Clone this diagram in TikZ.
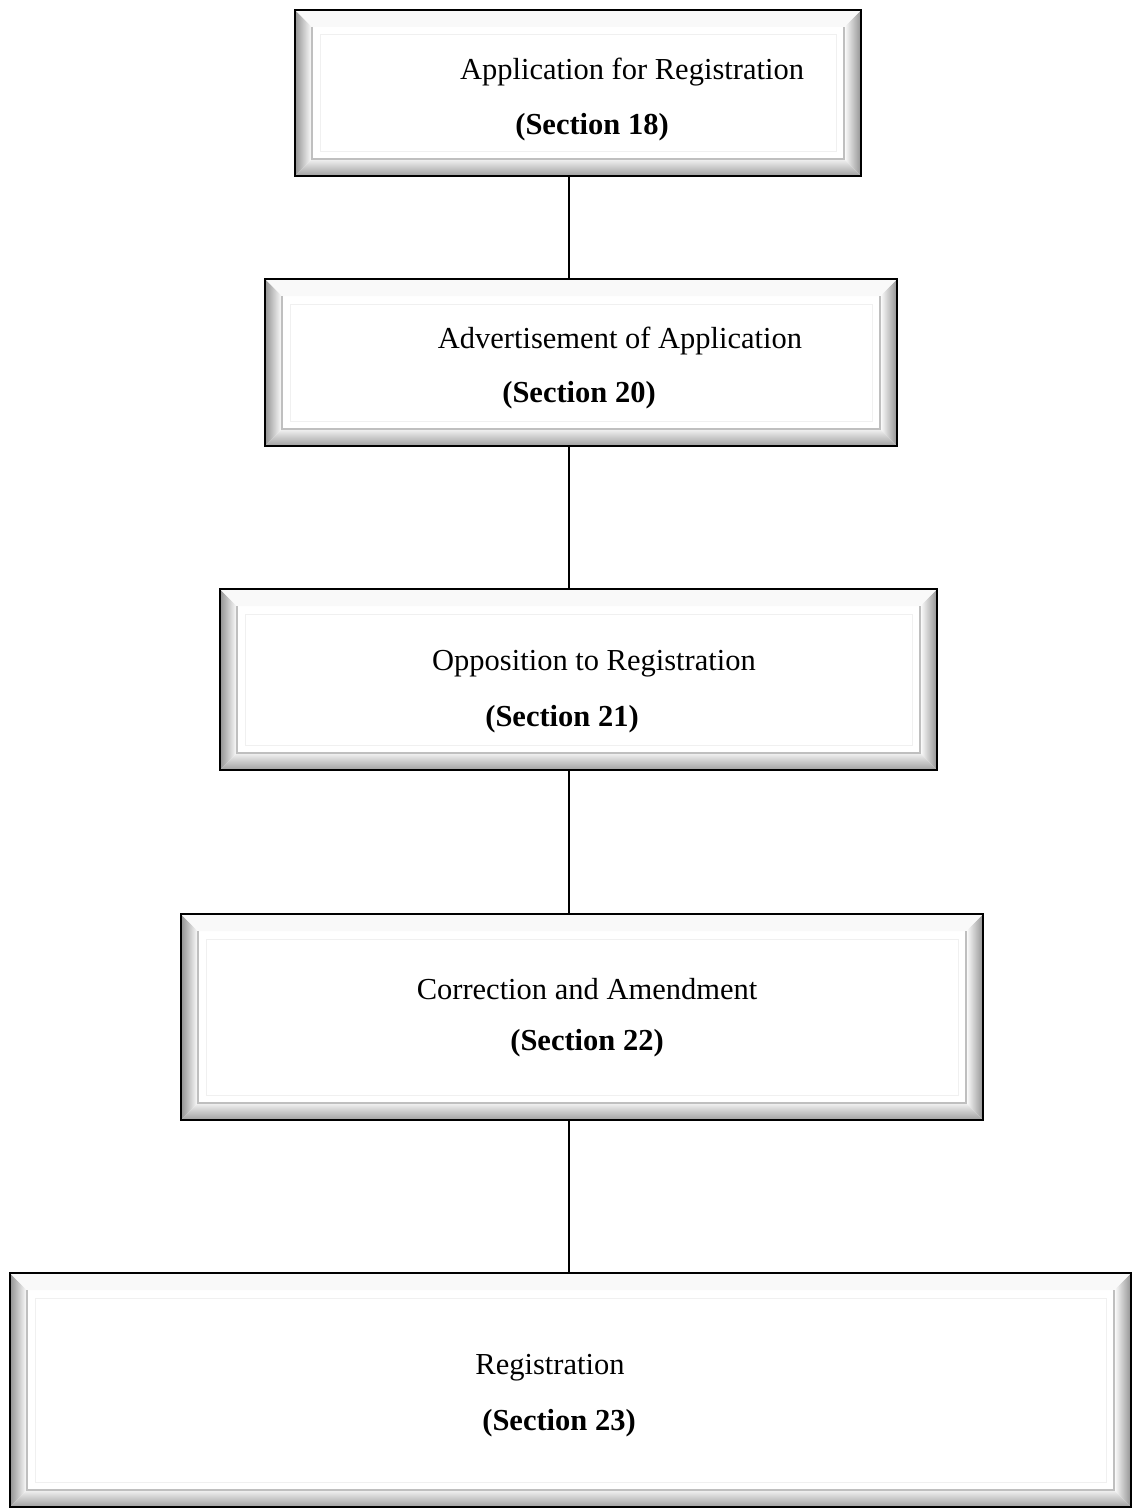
\documentclass[tikz,border=0pt]{standalone}
\usepackage{fontspec}
\setmainfont{Liberation Serif}
\usetikzlibrary{calc}
\tikzset{
  boxnode/.style={draw=none, inner sep=0pt, outer sep=0pt, rectangle},
  lbl/.style={inner sep=0pt, font=\fontsize{30.5}{33}\selectfont},
  lblb/.style={inner sep=0pt, font=\fontsize{30.5}{33}\selectfont\bfseries},
  conn/.style={draw=black, line width=1.1pt},
}
% name, cx, cy, w, h
\newcommand{\bevelbox}[5]{%
  \node[boxnode, minimum width=#4pt, minimum height=#5pt] (#1) at (#2,#3) {};
  \begin{scope}[shift={(#1.north west)}]
    \def\bw{#4}\def\bh{#5}\def\bb{17}
    \fill[white] (0,0) rectangle (\bw,\bh);
    \shade[left color=gray!85, right color=white] (0,0) -- (\bb,\bb) -- (\bb,\bh-\bb) -- (0,\bh) -- cycle;
    \shade[left color=white, right color=gray!85] (\bw,0) -- (\bw-\bb,\bb) -- (\bw-\bb,\bh-\bb) -- (\bw,\bh) -- cycle;
    \shade[top color=gray!10, bottom color=gray!75] (0,\bh) -- (\bb,\bh-\bb) -- (\bw-\bb,\bh-\bb) -- (\bw,\bh) -- cycle;
    \fill[gray!5] (0,0) -- (\bw,0) -- (\bw-\bb,\bb) -- (\bb,\bb) -- cycle;
    \draw[gray!50, line width=1.2pt] (\bb,\bb) -- (\bb,\bh-\bb) -- (\bw-\bb,\bh-\bb) -- (\bw-\bb,\bb);
    \draw[gray!12, line width=1pt] (\bb+8,\bb+8) rectangle (\bw-\bb-8,\bh-\bb-8);
    \draw[black, line width=2.6pt] (0,0) rectangle (\bw,\bh);
  \end{scope}
}
\begin{document}
\begin{tikzpicture}[x=1pt,y=-1pt]
\useasboundingbox (0,0) rectangle (1133,1509);
\fill[white] (0,0) rectangle (1133,1509);
\coordinate (spine) at (569,0);

\bevelbox{b1}{578}{93}{566}{166}
\bevelbox{b2}{581}{362.5}{632}{167}
\bevelbox{b3}{578.5}{679.5}{717}{181}
\bevelbox{b4}{582}{1017}{802}{206}
\bevelbox{b5}{570.5}{1390}{1121}{234}

\node[lbl]  (t1a) at (632,72)   {Application for Registration};
\node[lblb] (t1b) at (592,127)  {(Section 18)};
\node[lbl]  (t2a) at (620,341)  {Advertisement of Application};
\node[lblb] (t2b) at (579,395)  {(Section 20)};
\node[lbl]  (t3a) at (594,664)  {Opposition to Registration};
\node[lblb] (t3b) at (562,719)  {(Section 21)};
\node[lbl]  (t4a) at (587,989)  {Correction and Amendment};
\node[lblb] (t4b) at (587,1043) {(Section 22)};
\node[lbl]  (t5a) at (550,1368) {Registration};
\node[lblb] (t5b) at (559,1423) {(Section 23)};

\draw[conn] (b1.south -| spine) -- (b2.north -| spine);
\draw[conn] (b2.south -| spine) -- (b3.north -| spine);
\draw[conn] (b3.south -| spine) -- (b4.north -| spine);
\draw[conn] (b4.south -| spine) -- (b5.north -| spine);
\end{tikzpicture}
\end{document}
